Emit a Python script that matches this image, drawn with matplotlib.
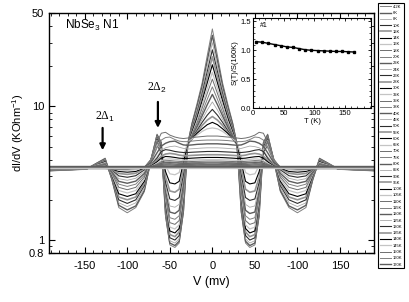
import matplotlib
matplotlib.use("Agg")
import matplotlib.pyplot as plt
from matplotlib.ticker import MultipleLocator, NullFormatter, FixedLocator

plt.rcParams['font.family'] = ['Liberation Sans', 'DejaVu Sans']
plt.rcParams['mathtext.fontset'] = 'custom'
plt.rcParams['mathtext.rm'] = 'Liberation Sans'
plt.rcParams['mathtext.it'] = 'Liberation Sans:italic'
plt.rcParams['mathtext.bf'] = 'Liberation Sans:bold'

# temperatures of the spectra (legend)
temps = ['4.2K', '6K', '8K', '10K', '12K', '14K', '16K', '18K', '20K', '22K',
         '24K', '26K', '28K', '30K', '32K', '35K', '38K', '40K', '45K', '50K',
         '55K', '60K', '65K', '70K', '75K', '80K', '85K', '90K', '95K', '100K',
         '105K', '110K', '115K', '120K', '125K', '130K', '135K', '140K', '145K',
         '150K', '160K', '170K']

# |V| (mV) where the curves were read; the spectra are symmetric in V
v_half = [0, 6, 12, 18, 24, 29, 34, 39, 44, 50, 55, 60, 65, 72, 80, 90, 100, 110, 118, 126, 135, 148, 195]

# dI/dV (kOhm^-1) read at v_half, one row per temperature
didv = [
    [38, 24, 15, 10.5, 7.5, 5.2, 1.6, 0.95, 0.88, 0.92, 1.5, 5.4, 6.2, 4.0, 2.3, 1.75, 1.6, 1.75, 2.8, 4.1, 3.8, 3.4, 3.3],
    [34, 22, 14.2, 10, 7.3, 5.2, 1.65, 0.98, 0.91, 0.95, 1.55, 5.3, 6.1, 4.0, 2.35, 1.8, 1.68, 1.82, 2.85, 4.05, 3.78, 3.4, 3.3],
    [30, 20, 13.3, 9.5, 7.0, 5.2, 1.75, 1.02, 0.95, 0.99, 1.6, 5.2, 6.0, 4.0, 2.45, 1.9, 1.78, 1.9, 2.9, 4.0, 3.75, 3.4, 3.3],
    [26.5, 18.2, 12.5, 9.0, 6.8, 5.2, 1.85, 1.08, 1.0, 1.04, 1.7, 5.1, 5.9, 4.0, 2.55, 2.0, 1.88, 2.0, 2.95, 3.95, 3.72, 3.4, 3.3],
    [23.5, 16.6, 11.7, 8.6, 6.6, 5.2, 1.95, 1.15, 1.06, 1.1, 1.8, 5.0, 5.8, 4.0, 2.65, 2.1, 2.0, 2.1, 3.0, 3.9, 3.7, 3.4, 3.3],
    [20.5, 15, 11, 8.2, 6.4, 5.2, 2.05, 1.22, 1.13, 1.17, 1.9, 4.9, 5.7, 4.0, 2.75, 2.22, 2.12, 2.22, 3.05, 3.85, 3.67, 3.4, 3.32],
    [18, 13.6, 10.3, 7.8, 6.2, 5.2, 2.15, 1.3, 1.21, 1.25, 2.0, 4.8, 5.6, 4.0, 2.85, 2.35, 2.25, 2.35, 3.1, 3.8, 3.65, 3.4, 3.32],
    [16, 12.5, 9.7, 7.5, 6.1, 5.2, 2.3, 1.4, 1.31, 1.35, 2.1, 4.7, 5.5, 4.0, 2.95, 2.48, 2.38, 2.48, 3.15, 3.75, 3.62, 3.4, 3.32],
    [14, 11.3, 9.0, 7.2, 6.0, 5.2, 2.45, 1.52, 1.43, 1.47, 2.2, 4.6, 5.4, 4.0, 3.05, 2.62, 2.52, 2.62, 3.2, 3.7, 3.6, 3.42, 3.34],
    [12.3, 10.3, 8.5, 7.0, 5.9, 5.2, 2.65, 1.67, 1.58, 1.62, 2.35, 4.55, 5.3, 4.0, 3.15, 2.76, 2.66, 2.75, 3.25, 3.65, 3.58, 3.42, 3.34],
    [10.8, 9.4, 8.0, 6.8, 5.8, 5.2, 2.85, 1.85, 1.76, 1.8, 2.5, 4.5, 5.25, 4.0, 3.25, 2.9, 2.8, 2.88, 3.3, 3.6, 3.56, 3.44, 3.36],
    [9.5, 8.6, 7.6, 6.6, 5.8, 5.2, 3.1, 2.08, 1.98, 2.03, 2.7, 4.5, 5.2, 4.0, 3.35, 3.03, 2.95, 3.02, 3.35, 3.56, 3.54, 3.44, 3.36],
    [8.4, 7.9, 7.2, 6.4, 5.7, 5.2, 3.4, 2.4, 2.28, 2.33, 2.95, 4.5, 5.2, 4.0, 3.42, 3.16, 3.1, 3.15, 3.38, 3.52, 3.52, 3.44, 3.36],
    [7.6, 7.3, 6.8, 6.3, 5.7, 5.3, 3.8, 2.75, 2.63, 2.68, 3.25, 4.6, 5.2, 4.0, 3.46, 3.26, 3.22, 3.26, 3.4, 3.5, 3.5, 3.44, 3.38],
    [6.9, 6.8, 6.5, 6.1, 5.7, 5.4, 4.2, 3.2, 3.08, 3.13, 3.6, 4.7, 5.2, 4.0, 3.5, 3.35, 3.32, 3.34, 3.42, 3.48, 3.48, 3.44, 3.38],
    [6.0, 6.0, 5.95, 5.9, 5.85, 5.8, 5.75, 5.8, 5.9, 6.1, 6.4, 6.3, 5.4, 4.0, 3.5, 3.44, 3.42, 3.42, 3.44, 3.46, 3.46, 3.44, 3.38],
    [5.6, 5.6, 5.58, 5.55, 5.5, 5.45, 5.45, 5.5, 5.65, 5.9, 5.85, 5.6, 4.9, 3.9, 3.5, 3.44, 3.42, 3.42, 3.44, 3.45, 3.45, 3.44, 3.38],
    [5.25, 5.25, 5.22, 5.2, 5.15, 5.12, 5.15, 5.3, 5.5, 5.45, 5.3, 5.05, 4.5, 3.8, 3.5, 3.44, 3.42, 3.42, 3.43, 3.44, 3.44, 3.44, 3.4],
    [4.9, 4.9, 4.88, 4.85, 4.82, 4.8, 4.85, 4.95, 5.05, 5.0, 4.9, 4.7, 4.2, 3.7, 3.48, 3.44, 3.42, 3.42, 3.43, 3.44, 3.44, 3.44, 3.4],
    [4.6, 4.6, 4.58, 4.56, 4.54, 4.52, 4.52, 4.55, 4.6, 4.7, 4.75, 4.6, 4.1, 3.65, 3.48, 3.44, 3.43, 3.43, 3.43, 3.44, 3.44, 3.44, 3.4],
    [4.35, 4.35, 4.34, 4.32, 4.3, 4.28, 4.28, 4.32, 4.4, 4.45, 4.4, 4.25, 3.95, 3.62, 3.48, 3.44, 3.43, 3.43, 3.43, 3.44, 3.44, 3.44, 3.42],
    [4.15, 4.15, 4.14, 4.12, 4.1, 4.08, 4.08, 4.1, 4.15, 4.2, 4.22, 4.1, 3.85, 3.58, 3.47, 3.44, 3.43, 3.43, 3.43, 3.44, 3.44, 3.44, 3.42],
    [4.0, 4.0, 3.99, 3.98, 3.96, 3.95, 3.95, 3.98, 4.02, 4.05, 4.02, 3.92, 3.75, 3.55, 3.47, 3.44, 3.43, 3.43, 3.43, 3.44, 3.44, 3.44, 3.42],
    [3.9, 3.9, 3.89, 3.88, 3.87, 3.86, 3.86, 3.88, 3.9, 3.93, 3.92, 3.85, 3.7, 3.54, 3.47, 3.44, 3.43, 3.43, 3.43, 3.44, 3.44, 3.44, 3.42],
    [3.82, 3.82, 3.81, 3.8, 3.8, 3.79, 3.79, 3.8, 3.82, 3.85, 3.84, 3.78, 3.66, 3.53, 3.47, 3.44, 3.43, 3.43, 3.43, 3.44, 3.44, 3.44, 3.43],
    [3.76, 3.76, 3.75, 3.75, 3.74, 3.74, 3.74, 3.75, 3.77, 3.79, 3.78, 3.73, 3.63, 3.52, 3.47, 3.44, 3.43, 3.43, 3.43, 3.44, 3.44, 3.44, 3.43],
    [3.71, 3.71, 3.7, 3.7, 3.7, 3.69, 3.69, 3.7, 3.72, 3.74, 3.73, 3.69, 3.61, 3.51, 3.46, 3.44, 3.43, 3.43, 3.43, 3.44, 3.44, 3.44, 3.43],
    [3.67, 3.67, 3.67, 3.66, 3.66, 3.66, 3.66, 3.66, 3.68, 3.7, 3.69, 3.66, 3.59, 3.5, 3.46, 3.44, 3.43, 3.43, 3.43, 3.44, 3.44, 3.44, 3.43],
    [3.63, 3.63, 3.63, 3.63, 3.62, 3.62, 3.62, 3.62, 3.64, 3.66, 3.65, 3.62, 3.56, 3.49, 3.46, 3.44, 3.43, 3.43, 3.43, 3.44, 3.44, 3.44, 3.43],
    [3.6, 3.6, 3.6, 3.6, 3.59, 3.59, 3.59, 3.59, 3.61, 3.62, 3.62, 3.59, 3.54, 3.48, 3.46, 3.44, 3.43, 3.43, 3.43, 3.44, 3.44, 3.44, 3.44],
    [3.58, 3.58, 3.58, 3.58, 3.57, 3.57, 3.57, 3.57, 3.58, 3.6, 3.59, 3.57, 3.53, 3.48, 3.46, 3.45, 3.44, 3.44, 3.44, 3.44, 3.44, 3.44, 3.44],
    [3.56, 3.56, 3.56, 3.56, 3.56, 3.55, 3.55, 3.55, 3.56, 3.58, 3.57, 3.55, 3.52, 3.48, 3.46, 3.45, 3.44, 3.44, 3.44, 3.44, 3.44, 3.44, 3.44],
    [3.54, 3.54, 3.54, 3.54, 3.54, 3.54, 3.54, 3.54, 3.55, 3.56, 3.56, 3.54, 3.51, 3.48, 3.46, 3.45, 3.45, 3.45, 3.45, 3.45, 3.45, 3.45, 3.45],
    [3.53, 3.53, 3.53, 3.53, 3.53, 3.53, 3.53, 3.53, 3.54, 3.55, 3.55, 3.53, 3.5, 3.48, 3.46, 3.45, 3.45, 3.45, 3.45, 3.45, 3.45, 3.45, 3.45],
    [3.52, 3.52, 3.52, 3.52, 3.52, 3.52, 3.52, 3.52, 3.52, 3.53, 3.53, 3.52, 3.5, 3.47, 3.46, 3.45, 3.45, 3.45, 3.45, 3.45, 3.45, 3.45, 3.45],
    [3.51, 3.51, 3.51, 3.51, 3.51, 3.51, 3.51, 3.51, 3.51, 3.52, 3.52, 3.51, 3.49, 3.47, 3.46, 3.46, 3.46, 3.46, 3.46, 3.46, 3.46, 3.46, 3.46],
    [3.5, 3.5, 3.5, 3.5, 3.5, 3.5, 3.5, 3.5, 3.5, 3.51, 3.51, 3.5, 3.49, 3.47, 3.46, 3.46, 3.46, 3.46, 3.46, 3.46, 3.46, 3.46, 3.46],
    [3.49, 3.49, 3.49, 3.49, 3.49, 3.49, 3.49, 3.49, 3.49, 3.5, 3.5, 3.49, 3.48, 3.47, 3.46, 3.46, 3.46, 3.46, 3.46, 3.46, 3.46, 3.46, 3.46],
    [3.48, 3.48, 3.48, 3.48, 3.48, 3.48, 3.48, 3.48, 3.48, 3.48, 3.48, 3.48, 3.48, 3.48, 3.48, 3.48, 3.48, 3.48, 3.48, 3.48, 3.48, 3.48, 3.48],
    [3.5, 3.5, 3.5, 3.5, 3.5, 3.5, 3.5, 3.5, 3.5, 3.5, 3.5, 3.5, 3.5, 3.5, 3.5, 3.5, 3.5, 3.5, 3.5, 3.5, 3.5, 3.5, 3.5],
    [3.53, 3.53, 3.53, 3.53, 3.53, 3.53, 3.53, 3.53, 3.53, 3.53, 3.53, 3.53, 3.53, 3.53, 3.53, 3.53, 3.53, 3.53, 3.53, 3.53, 3.53, 3.53, 3.53],
    [3.56, 3.56, 3.56, 3.56, 3.56, 3.56, 3.56, 3.56, 3.56, 3.56, 3.56, 3.56, 3.56, 3.56, 3.56, 3.56, 3.56, 3.56, 3.56, 3.56, 3.56, 3.56, 3.56],
]

# inset: normalised thermopower
t_inset = [5, 15, 25, 35, 45, 55, 65, 75, 85, 95, 105, 115, 125, 135, 145, 155, 165]
s_inset = [1.15, 1.14, 1.12, 1.10, 1.08, 1.06, 1.05, 1.03, 1.01, 1.00, 0.995, 0.99, 0.985, 0.98, 0.98, 0.975, 0.97]

xtick_pos = [-150, -100, -50, 0, 50, 100, 150]
xtick_lab = ['-150', '-100', '-50', '0', '50', '-100', '150']

grays = ['#808080', '#5c5c5c', '#a8a8a8', '#2e2e2e', '#949494', '#000000', '#c4c4c4', '#6e6e6e']
widths = [0.7, 1.0, 0.6, 0.8, 1.2, 0.8, 0.9, 0.7]

fig = plt.figure(figsize=(4.09, 3.02), dpi=100)
ax = fig.add_axes([49/409, 1-253/302, 325/409, 240/302])

v_full = [-v for v in v_half[::-1]] + v_half[1:]
handles = []
for i, row in enumerate(didv):
    y = row[::-1] + row[1:]
    ln, = ax.plot(v_full, y, color=grays[i % len(grays)], lw=widths[i % len(widths)])
    handles.append(ln)

ax.set_yscale('log')
ax.set_xlim(-192, 190)
ax.set_ylim(0.8, 50)
ax.yaxis.set_major_locator(FixedLocator([0.8, 1, 10, 50]))
ax.set_yticklabels(['0.8', '1', '10', '50'])
ax.yaxis.set_minor_formatter(NullFormatter())
ax.set_xticks(xtick_pos)
ax.set_xticklabels(xtick_lab)
ax.xaxis.set_minor_locator(MultipleLocator(10))
ax.tick_params(which='both', direction='in', top=True, right=True, labelsize=8)
ax.tick_params(which='major', length=4, width=0.8)
ax.tick_params(which='minor', length=2, width=0.6)
ax.tick_params(axis='x', pad=6)
for s in ax.spines.values():
    s.set_linewidth(1.0)
ax.set_xlabel('V (mv)', fontsize=9, labelpad=3)
ax.set_ylabel('dI/dV (KOhm$^{-1}$)', fontsize=8, labelpad=2)

ax.text(0.05, 0.95, 'NbSe$_3$ N1', transform=ax.transAxes, fontsize=8.5, va='center')

arrow = dict(arrowstyle='-|>', lw=1.6, color='k', mutation_scale=8, shrinkA=0, shrinkB=0)
ax.annotate('', xy=(-129, 4.7), xytext=(-129, 6.9), arrowprops=arrow)
ax.annotate('', xy=(-64, 6.9), xytext=(-64, 10.8), arrowprops=arrow)
ax.text(-126, 8.3, '2Δ$_1$', family='Liberation Serif', fontsize=8.5, ha='center', va='center')
ax.text(-65, 13.7, '2Δ$_2$', family='Liberation Serif', fontsize=8.5, ha='center', va='center')

# inset
axi = fig.add_axes([253/409, 1-108/302, 118/409, 90/302])
axi.plot(t_inset, s_inset, color='k', lw=1.0, marker='s', ms=1.5)
axi.set_xlim(0, 192)
axi.set_ylim(0, 1.56)
axi.set_xticks([0, 50, 100, 150])
axi.set_yticks([0.0, 0.5, 1.0, 1.5])
axi.xaxis.set_minor_locator(MultipleLocator(10))
axi.yaxis.set_minor_locator(MultipleLocator(0.1))
axi.tick_params(which='both', direction='in', top=True, right=True, labelsize=5.5, pad=1.5)
axi.tick_params(which='major', length=2.5, width=0.6)
axi.tick_params(which='minor', length=1.2, width=0.5)
for s in axi.spines.values():
    s.set_linewidth(0.8)
axi.set_xlabel('T (K)', fontsize=5.5, labelpad=1)
axi.set_ylabel('S(T)/S(160K)', fontsize=5.5, labelpad=1)
axi.text(0.06, 0.92, '#1', transform=axi.transAxes, fontsize=5, va='center')

leg = fig.legend(handles, temps, loc='upper left', bbox_to_anchor=(378/409, 1-3/302),
                 fontsize=3, frameon=True, fancybox=False, edgecolor='k', framealpha=1,
                 borderaxespad=0, borderpad=0.4, handlelength=2.8, handletextpad=0.3,
                 labelspacing=0.55)
leg.get_frame().set_linewidth(0.8)

fig.savefig('out.png', dpi=100)
